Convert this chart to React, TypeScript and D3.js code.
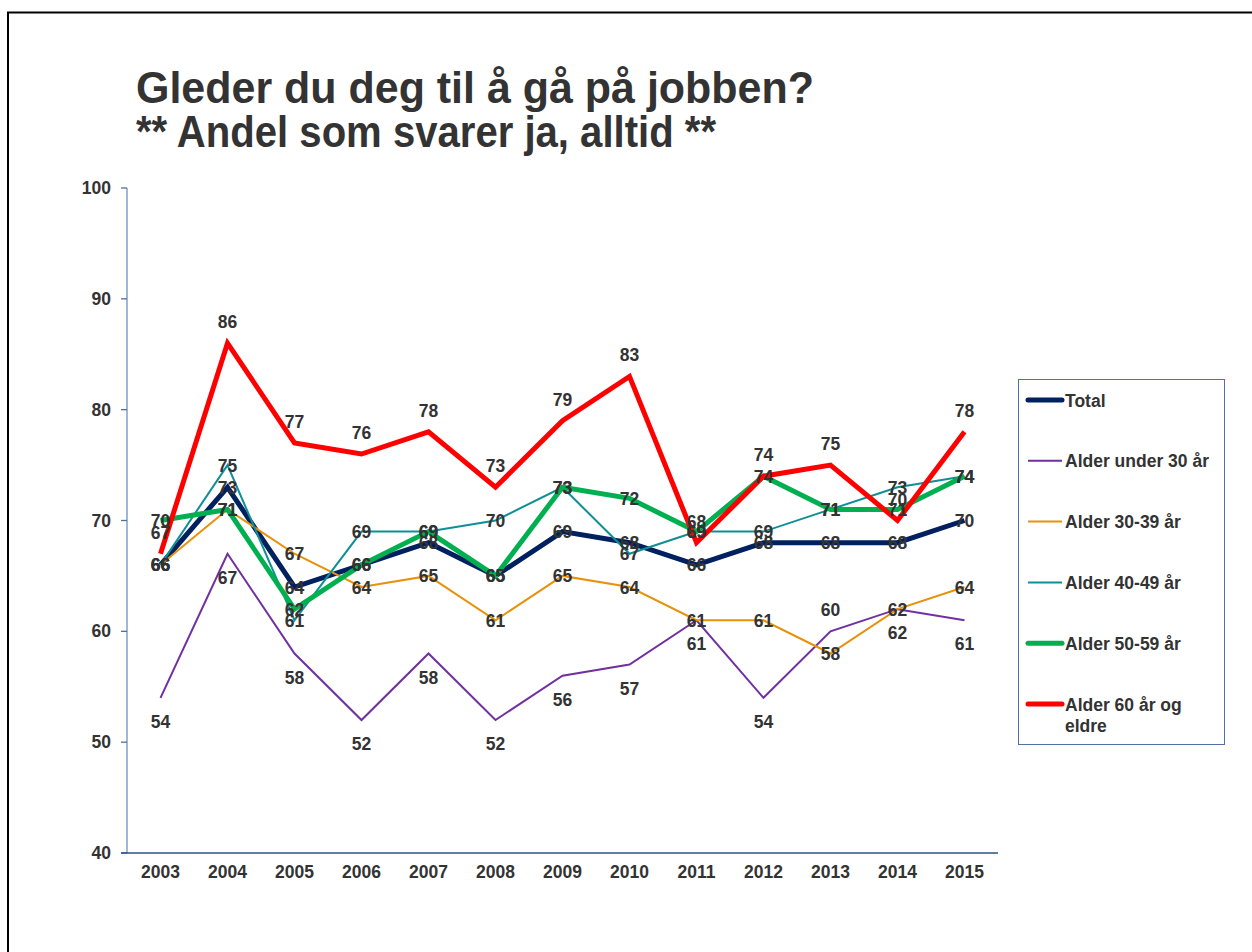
import * as d3 from "d3";
import { useEffect, useRef } from "react";

const years = ["2003", "2004", "2005", "2006", "2007", "2008", "2009", "2010", "2011", "2012", "2013", "2014", "2015"];

const total = [66, 73, 64, 66, 68, 65, 69, 68, 66, 68, 68, 68, 70];
const under30 = [54, 67, 58, 52, 58, 52, 56, 57, 61, 54, 60, 62, 61];
const age30to39 = [66, 71, 67, 64, 65, 61, 65, 64, 61, 61, 58, 62, 64];
const age40to49 = [66, 75, 61, 69, 69, 70, 73, 67, 69, 69, 71, 73, 74];
const age50to59 = [70, 71, 62, 66, 69, 65, 73, 72, 69, 74, 71, 71, 74];
const age60plus = [67, 86, 77, 76, 78, 73, 79, 83, 68, 74, 75, 70, 78];

const seriesNames = ["Total", "Alder under 30 år", "Alder 30-39 år", "Alder 40-49 år", "Alder 50-59 år", "Alder 60 år og eldre"];
const yTicks = [40, 50, 60, 70, 80, 90, 100];

const App = () => {
  const svgRef = useRef<SVGSVGElement>(null);

  useEffect(() => {
    const width = 1252;
    const height = 952;
    const svg = d3.select(svgRef.current).attr("width", width).attr("height", height);
    svg.selectAll("*").remove();

    const font = "'Liberation Sans', Arial, sans-serif";
    const textColor = "#333333";
    const fs = 17.5;

    // frame round the slide
    svg
      .append("rect")
      .attr("x", 8)
      .attr("y", 12.5)
      .attr("width", 1400)
      .attr("height", 1200)
      .attr("fill", "white")
      .attr("stroke", "black")
      .attr("stroke-width", 2);

    // title (condensed like the original)
    const title = svg
      .append("text")
      .attr("font-family", font)
      .attr("font-weight", "bold")
      .attr("font-size", 45)
      .attr("fill", textColor);
    title
      .append("tspan")
      .attr("x", 136)
      .attr("y", 103)
      .attr("textLength", 678)
      .attr("lengthAdjust", "spacingAndGlyphs")
      .text("Gleder du deg til å gå på jobben?");
    title
      .append("tspan")
      .attr("x", 136)
      .attr("y", 147)
      .attr("textLength", 580)
      .attr("lengthAdjust", "spacingAndGlyphs")
      .text("** Andel som svarer ja, alltid **");

    const x = d3.scalePoint().domain(years).range([127, 998]).padding(0.5);
    const y = d3.scaleLinear().domain([40, 100]).range([853, 188]);

    // y axis
    svg
      .append("line")
      .attr("x1", 127)
      .attr("x2", 127)
      .attr("y1", y(100))
      .attr("y2", y(40))
      .attr("stroke", "#7090C0")
      .attr("stroke-width", 1.3);
    svg
      .selectAll("yTick")
      .data(yTicks)
      .enter()
      .append("line")
      .attr("x1", 121)
      .attr("x2", 127)
      .attr("y1", (d) => y(d))
      .attr("y2", (d) => y(d))
      .attr("stroke", "#4F6F9F")
      .attr("stroke-width", 1.3);
    svg
      .selectAll("yLabel")
      .data(yTicks)
      .enter()
      .append("text")
      .attr("x", 111)
      .attr("y", (d) => y(d) + 6)
      .attr("text-anchor", "end")
      .attr("font-family", font)
      .attr("font-weight", "bold")
      .attr("font-size", fs)
      .attr("fill", textColor)
      .text((d) => d);

    // x axis
    svg
      .append("line")
      .attr("x1", 121)
      .attr("x2", 998)
      .attr("y1", y(40))
      .attr("y2", y(40))
      .attr("stroke", "#2F5085")
      .attr("stroke-width", 1.5);
    svg
      .selectAll("xLabel")
      .data(years)
      .enter()
      .append("text")
      .attr("x", (d) => x(d)!)
      .attr("y", 878)
      .attr("text-anchor", "middle")
      .attr("font-family", font)
      .attr("font-weight", "bold")
      .attr("font-size", fs)
      .attr("fill", textColor)
      .text((d) => d);

    // series: label placement "c" centred, "a" above, "b" below
    const series = [
      { name: seriesNames[0], values: total, color: "#002060", width: 5, pos: "c" },
      { name: seriesNames[1], values: under30, color: "#7030A0", width: 2, pos: "b" },
      { name: seriesNames[2], values: age30to39, color: "#E8910A", width: 2, pos: "c" },
      { name: seriesNames[3], values: age40to49, color: "#0E8F96", width: 2, pos: "c" },
      { name: seriesNames[4], values: age50to59, color: "#00B050", width: 5, pos: "c" },
      { name: seriesNames[5], values: age60plus, color: "#FF0000", width: 5, pos: "a" },
    ];
    // single label that sits above instead of below
    const abovePoints: Record<string, boolean> = { [`${seriesNames[1]}|2013`]: true };

    const line = d3
      .line<number>()
      .x((_, i) => x(years[i])!)
      .y((d) => y(d));

    svg
      .selectAll("seriesLine")
      .data(series)
      .enter()
      .append("path")
      .attr("d", (s) => line(s.values))
      .attr("fill", "none")
      .attr("stroke", (s) => s.color)
      .attr("stroke-width", (s) => s.width)
      .attr("stroke-linejoin", "miter");

    const labels = svg.append("g");
    series.forEach((s) => {
      labels
        .selectAll(null)
        .data(s.values)
        .enter()
        .append("text")
        .attr("x", (_, i) => x(years[i])!)
        .attr("y", (d, i) => {
          let pos = s.pos;
          if (abovePoints[`${s.name}|${years[i]}`]) pos = "a";
          if (pos === "a") return y(d) - 15;
          if (pos === "b") return y(d) + 30;
          return y(d) + 6.5;
        })
        .attr("text-anchor", "middle")
        .attr("font-family", font)
        .attr("font-weight", "bold")
        .attr("font-size", fs)
        .attr("fill", textColor)
        .text((d) => d);
    });

    // legend
    const legend = svg.append("g");
    legend
      .append("rect")
      .attr("x", 1018.5)
      .attr("y", 379.5)
      .attr("width", 206)
      .attr("height", 365)
      .attr("fill", "white")
      .attr("stroke", "#4F6FA8")
      .attr("stroke-width", 1);
    const legendY = d3.scalePoint().domain(seriesNames).range([400, 704]);
    const item = legend
      .selectAll("legendItem")
      .data(series)
      .enter()
      .append("g")
      .attr("transform", (s) => `translate(0,${legendY(s.name)})`);
    item
      .append("line")
      .attr("x1", 1028)
      .attr("x2", 1062)
      .attr("y1", 0)
      .attr("y2", 0)
      .attr("stroke", (s) => s.color)
      .attr("stroke-width", (s) => s.width)
      .attr("stroke-linecap", (s) => (s.width > 3 ? "round" : "butt"));
    item
      .append("text")
      .attr("x", 1065)
      .attr("y", 6.5)
      .attr("font-family", font)
      .attr("font-weight", "bold")
      .attr("font-size", fs)
      .attr("fill", textColor)
      .each(function (s) {
        const t = d3.select(this);
        if (s.name === seriesNames[5]) {
          t.append("tspan").attr("x", 1065).attr("dy", 0).text("Alder 60 år og");
          t.append("tspan").attr("x", 1065).attr("dy", 21).text("eldre");
        } else {
          t.text(s.name);
        }
      });
  }, []);

  return <svg ref={svgRef} style={{ position: "absolute", left: 0, top: 0 }}></svg>;
};

export default App;
